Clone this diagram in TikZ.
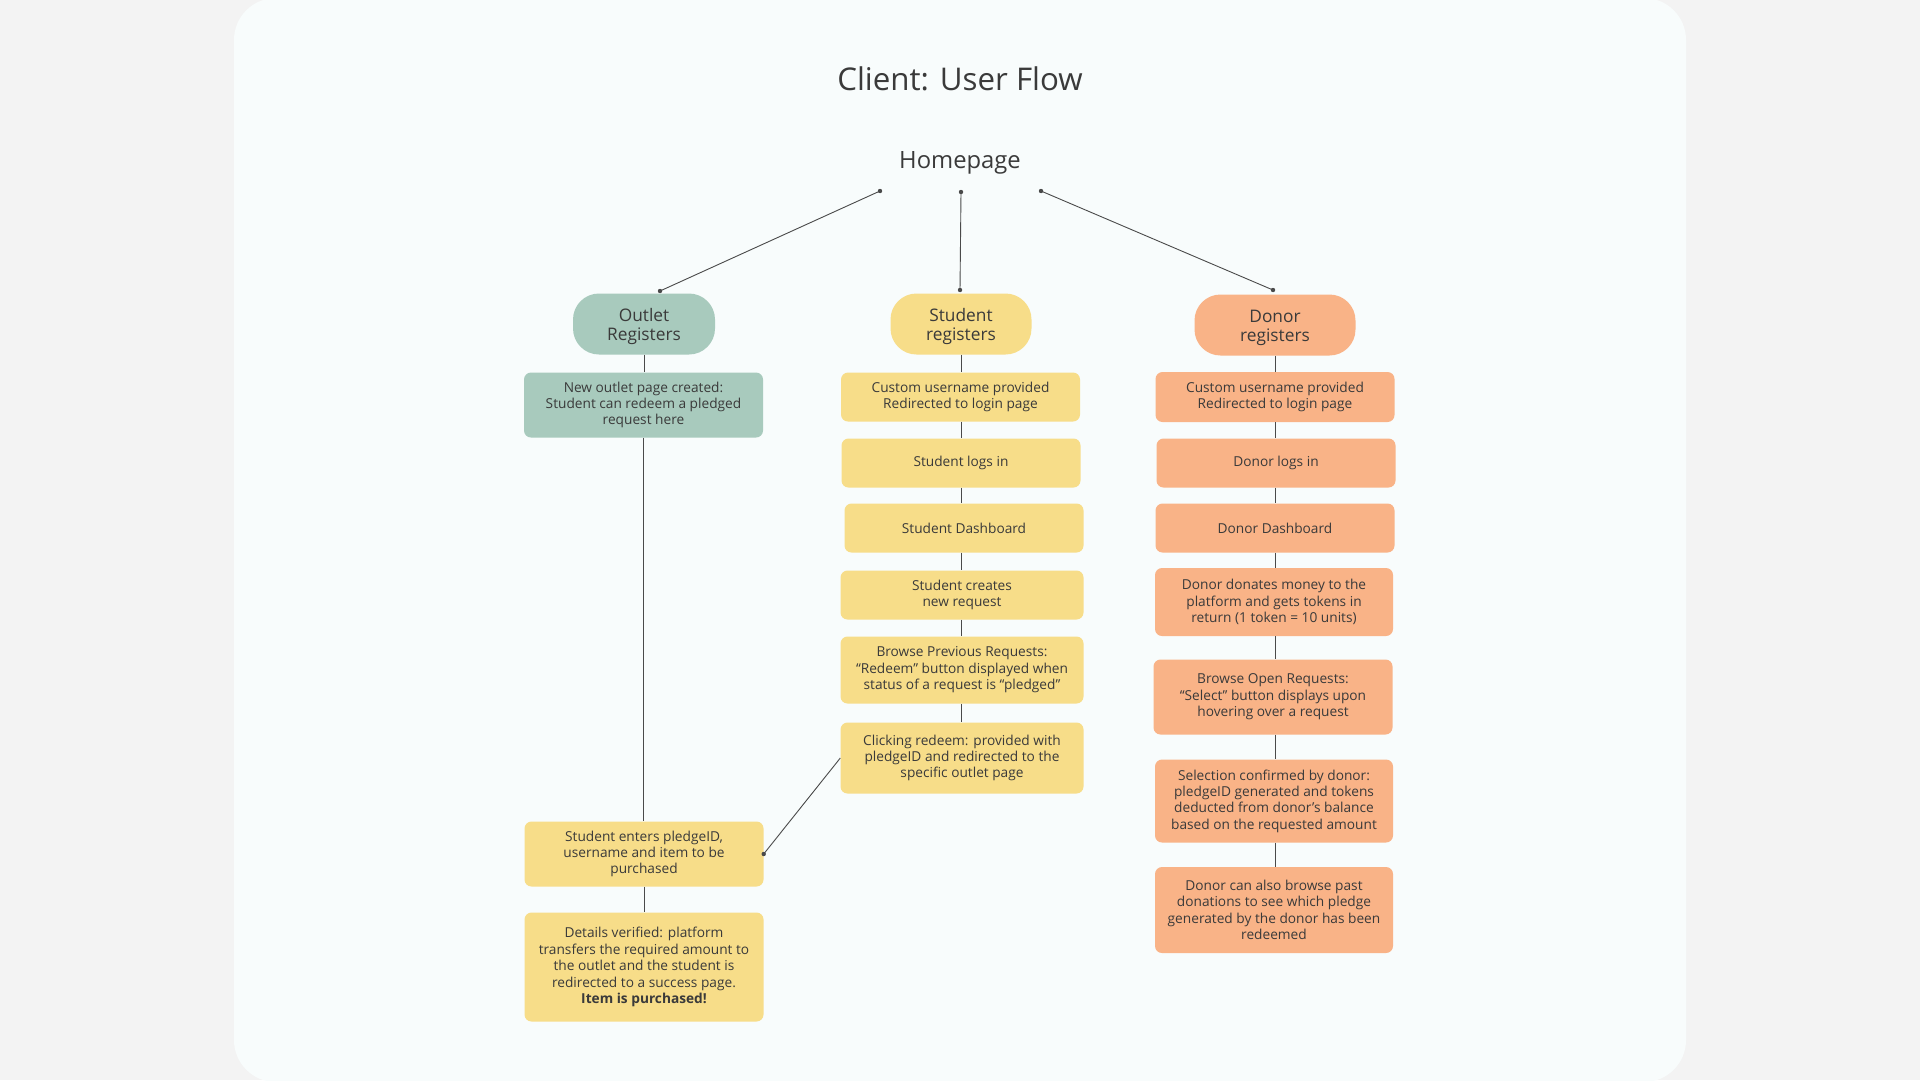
\documentclass[tikz,border=0pt]{standalone}
\usepackage{fontspec}
\setmainfont{Open Sans}
\definecolor{outerbg}{HTML}{F3F3F3}
\definecolor{cardbg}{HTML}{F8FCFC}
\definecolor{ogreen}{HTML}{A8CABD}
\definecolor{syellow}{HTML}{F7DD89}
\definecolor{dorange}{HTML}{F9B387}
\definecolor{txt}{HTML}{3A3A3A}
\definecolor{lc}{HTML}{4A4A4A}
\newcommand{\lowtxt}[1]{\raisebox{-3pt}[\height][\depth]{\begin{tabular}{@{}c@{}}#1\end{tabular}}}
\tikzset{
  boxbase/.style={rounded corners=7pt, minimum width=239pt, inner sep=0pt, align=center, text=txt, font=\fontsize{13.7}{16.4}\selectfont},
  obox/.style={boxbase, fill=ogreen},
  sbox/.style={boxbase, fill=syellow},
  dbox/.style={boxbase, fill=dorange},
  pillbase/.style={rounded corners=26pt, minimum height=61pt, inner sep=0pt, align=center, text=txt, font=\fontsize{17.3}{19.6}\selectfont},
  conn/.style={draw=lc, line width=0.9pt},
  dotc/.style={fill=lc, draw=none},
}
\begin{document}
\begin{tikzpicture}[x=1pt,y=-1pt]
\useasboundingbox (0,0) rectangle (1920,1080);
\fill[outerbg] (0,0) rectangle (1920,1080);
\fill[cardbg, rounded corners=42pt] (234,-2) rectangle (1686,1082);

\node[text=txt, font=\fontsize{31.3}{36}\selectfont] (title) at (960,78.5) {Client: User Flow};
\node[text=txt, font=\fontsize{23.8}{28}\selectfont] (home) at (960,163) {Homepage};

% pills
\node[pillbase, fill=ogreen, minimum width=142pt] (op) at (644,324) {\lowtxt{Outlet\\Registers}};
\node[pillbase, fill=syellow, minimum width=141pt] (sp) at (961,324) {\lowtxt{Student\\registers}};
\node[pillbase, fill=dorange, minimum width=161pt] (dp) at (1275,325) {\lowtxt{Donor\\registers}};

% homepage connector points
\coordinate (h1) at (880,191);
\coordinate (h2) at (961,192);
\coordinate (h3) at (1041,191);
\coordinate (p1) at (660,291);
\coordinate (p2) at (960,290);
\coordinate (p3) at (1273,290);

% outlet column
\node[obox, minimum height=65pt] (o1) at (643.5,405) {New outlet page created:\\Student can redeem a pledged\\request here};
\node[sbox, minimum height=65pt] (o2) at (644,854) {Student enters pledgeID,\\username and item to be\\purchased};
\node[sbox, minimum height=109pt] (o3) at (644,967) {Details verified: platform\\transfers the required amount to\\the outlet and the student is\\redirected to a success page.\\\textbf{Item is purchased!}};

% student column
\node[sbox, minimum height=49pt] (s1) at (960.5,397) {Custom username provided\\Redirected to login page};
\node[sbox, minimum height=49pt] (s2) at (961,463) {Student logs in};
\node[sbox, minimum height=49pt] (s3) at (964,528) {Student Dashboard};
\node[sbox, minimum height=49pt, minimum width=243pt] (s4) at (962,595) {Student creates\\new request};
\node[sbox, minimum height=67pt, minimum width=243pt] (s5) at (962,670) {Browse Previous Requests:\\“Redeem” button displayed when\\status of a request is “pledged”};
\node[sbox, minimum height=71pt, minimum width=243pt] (s6) at (962,758) {Clicking redeem: provided with\\pledgeID and redirected to the\\specific outlet page};

% donor column
\node[dbox, minimum height=50pt] (d1) at (1275,397) {Custom username provided\\Redirected to login page};
\node[dbox, minimum height=49pt] (d2) at (1276,463) {Donor logs in};
\node[dbox, minimum height=49pt] (d3) at (1275,528) {Donor Dashboard};
\node[dbox, minimum height=68pt, minimum width=238pt] (d4) at (1274,602) {Donor donates money to the\\platform and gets tokens in\\return (1 token = 10 units)};
\node[dbox, minimum height=75pt] (d5) at (1273,697) {Browse Open Requests:\\“Select” button displays upon\\hovering over a request};
\node[dbox, minimum height=83pt, minimum width=238pt] (d6) at (1274,801) {Selection confirmed by donor:\\pledgeID generated and tokens\\deducted from donor’s balance\\based on the requested amount};
\node[dbox, minimum height=86pt, minimum width=238pt] (d7) at (1274,910) {Donor can also browse past\\donations to see which pledge\\generated by the donor has been\\redeemed};

% homepage connectors
\draw[conn] (h1) -- (p1);
\draw[conn] (h2) -- (p2);
\draw[conn] (h3) -- (p3);
\foreach \c in {h1,h2,h3,p1,p2,p3} \fill[dotc] (\c) circle (2.2pt);

% vertical connectors
\draw[conn] (op.south) -- (op.south |- o1.north);
\draw[conn] (o1.south) -- (o1.south |- o2.north);
\draw[conn] (o2.south) -- (o2.south |- o3.north);

\draw[conn] (sp.south) -- (sp.south |- s1.north);
\draw[conn] (sp.south |- s1.south) -- (sp.south |- s2.north);
\draw[conn] (sp.south |- s2.south) -- (sp.south |- s3.north);
\draw[conn] (sp.south |- s3.south) -- (sp.south |- s4.north);
\draw[conn] (sp.south |- s4.south) -- (sp.south |- s5.north);
\draw[conn] (sp.south |- s5.south) -- (sp.south |- s6.north);

\draw[conn] (dp.south) -- (dp.south |- d1.north);
\draw[conn] (dp.south |- d1.south) -- (dp.south |- d2.north);
\draw[conn] (dp.south |- d2.south) -- (dp.south |- d3.north);
\draw[conn] (dp.south |- d3.south) -- (dp.south |- d4.north);
\draw[conn] (dp.south |- d4.south) -- (dp.south |- d5.north);
\draw[conn] (dp.south |- d5.south) -- (dp.south |- d6.north);
\draw[conn] (dp.south |- d6.south) -- (dp.south |- d7.north);

% redeem to outlet
\draw[conn] (s6.west) -- (o2.east);
\fill[dotc] (o2.east) circle (2.2pt);
\end{tikzpicture}
\end{document}
